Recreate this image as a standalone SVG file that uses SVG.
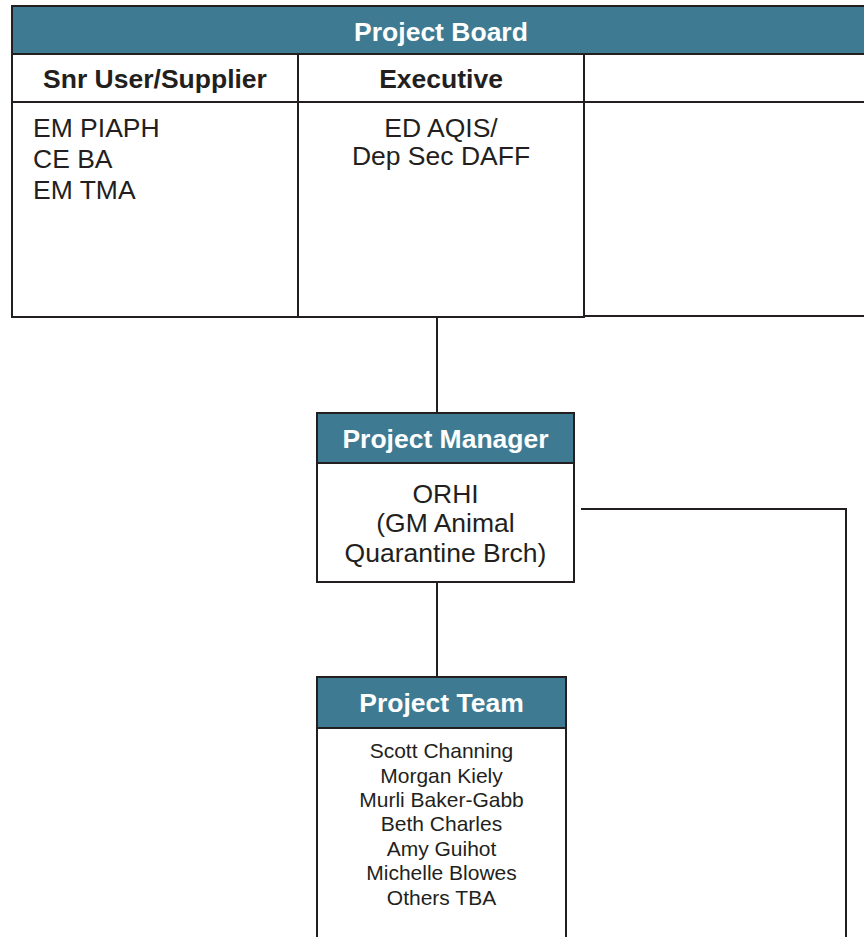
<svg xmlns="http://www.w3.org/2000/svg" width="864" height="937" viewBox="0 0 864 937">
  <style>
    .box { fill: #ffffff; stroke: #231f20; stroke-width: 2; }
    .head { fill: #3e7b92; stroke: #231f20; stroke-width: 2; }
    .line { fill: none; stroke: #231f20; stroke-width: 2; }
    .ht { font-family: "Liberation Sans", Arial, sans-serif; font-weight: bold; font-size: 26.5px; fill: #ffffff; text-anchor: middle; }
    .ct { font-family: "Liberation Sans", Arial, sans-serif; font-weight: bold; font-size: 26.5px; fill: #231f20; text-anchor: middle; }
    .bt { font-family: "Liberation Sans", Arial, sans-serif; font-size: 26.5px; fill: #231f20; }
    .nt { font-family: "Liberation Sans", Arial, sans-serif; font-size: 21px; fill: #231f20; text-anchor: middle; }
  </style>
  <rect width="864" height="937" fill="#ffffff"/>

  <!-- connectors -->
  <g id="connectors">
    <line class="line" x1="437" y1="317" x2="437" y2="413"/>
    <line class="line" x1="437" y1="582" x2="437" y2="677"/>
    <polyline class="line" points="581,509 846,509 846,940"/>
  </g>

  <!-- project board -->
  <g id="project-board">
    <rect class="box" x="12" y="54" width="286" height="263"/>
    <rect class="box" x="298" y="54" width="286" height="263"/>
    <rect class="box" x="584" y="54" width="290" height="262"/>
    <line class="line" x1="12" y1="102" x2="874" y2="102"/>
    <rect class="head" x="12" y="6" width="862" height="48"/>
    <text class="ht" x="441" y="41">Project Board</text>
    <text class="ct" x="155" y="88">Snr User/Supplier</text>
    <text class="ct" x="441" y="88">Executive</text>
    <text class="bt" x="33" y="137">EM PIAPH</text>
    <text class="bt" x="33" y="168">CE BA</text>
    <text class="bt" x="33" y="199">EM TMA</text>
    <text class="bt" x="441" y="137" text-anchor="middle">ED AQIS/</text>
    <text class="bt" x="441" y="165" text-anchor="middle">Dep Sec DAFF</text>
  </g>

  <!-- project manager -->
  <g id="project-manager">
    <rect class="box" x="317" y="413" width="257" height="169"/>
    <rect class="head" x="317" y="413" width="257" height="50"/>
    <text class="ht" x="445.5" y="447.5">Project Manager</text>
    <text class="bt" x="445.5" y="503" text-anchor="middle">ORHI</text>
    <text class="bt" x="445.5" y="532" text-anchor="middle">(GM Animal</text>
    <text class="bt" x="445.5" y="561.5" text-anchor="middle">Quarantine Brch)</text>
  </g>

  <!-- project team -->
  <g id="project-team">
    <rect class="box" x="317" y="677" width="249" height="280"/>
    <rect class="head" x="317" y="677" width="249" height="51"/>
    <text class="ht" x="441.5" y="711.5">Project Team</text>
    <text class="nt" x="441.5" y="758">Scott Channing</text>
    <text class="nt" x="441.5" y="782.5">Morgan Kiely</text>
    <text class="nt" x="441.5" y="806.5">Murli Baker-Gabb</text>
    <text class="nt" x="441.5" y="831">Beth Charles</text>
    <text class="nt" x="441.5" y="855.5">Amy Guihot</text>
    <text class="nt" x="441.5" y="880">Michelle Blowes</text>
    <text class="nt" x="441.5" y="904.5">Others TBA</text>
  </g>
</svg>
